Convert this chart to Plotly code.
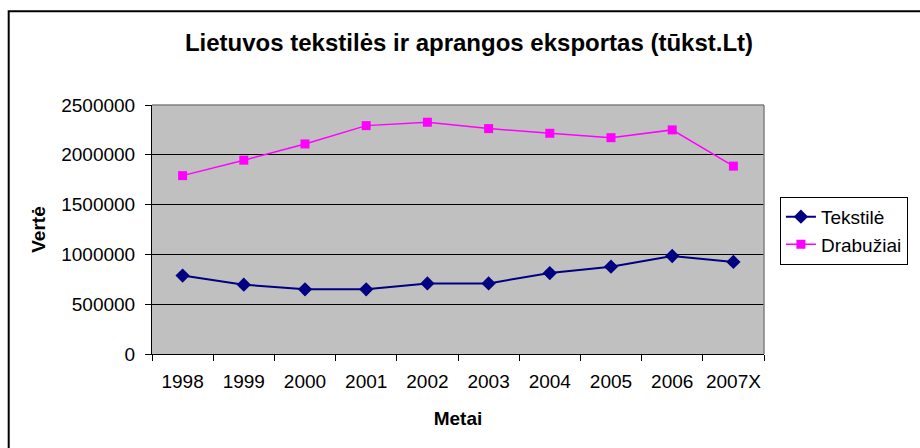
import plotly.graph_objects as go

# Export of Lithuanian textiles and clothing, thousand Lt
years = ["1998", "1999", "2000", "2001", "2002", "2003", "2004", "2005", "2006", "2007X"]
tekstile = [787000, 696000, 649000, 649000, 709000, 709000, 813000, 877000, 984000, 924000]
drabuziai = [1791000, 1946000, 2109000, 2293000, 2327000, 2263000, 2216000, 2172000, 2250000, 1886000]

y_ticks = [0, 500000, 1000000, 1500000, 2000000, 2500000]

FONT = "Liberation Sans, Arial, sans-serif"

fig = go.Figure()
fig.add_trace(go.Scatter(
    x=years, y=tekstile, name="Tekstilė", mode="lines+markers",
    line=dict(color="#000080", width=2),
    marker=dict(symbol="diamond", size=11, color="#000080"),
    legendgroup="a",
))
fig.add_trace(go.Scatter(
    x=years, y=drabuziai, name="Drabužiai", mode="lines+markers",
    line=dict(color="#FF00FF", width=1.5),
    marker=dict(symbol="square", size=9, color="#FF00FF"),
    legendgroup="b",
))

fig.update_layout(
    width=920, height=448,
    margin=dict(l=152, r=153, t=105, b=94),
    paper_bgcolor="white",
    plot_bgcolor="#C0C0C0",
    font=dict(family=FONT, size=19, color="black"),
    title=dict(
        text="<b>Lietuvos tekstilės ir aprangos eksportas (tūkst.Lt)</b>",
        x=469 / 920, xref="container", xanchor="center",
        y=1 - 43 / 448, yref="container", yanchor="middle",
        font=dict(family=FONT, size=24, color="black"),
    ),
    showlegend=True,
    legend=dict(
        x=(783 - 152) / 615, xanchor="left",
        y=(354.5 - 197) / 249.5, yanchor="top",
        bordercolor="black", borderwidth=1, bgcolor="white",
        font=dict(family=FONT, size=19, color="black"),
        traceorder="grouped", tracegroupgap=0,
    ),
)

fig.update_xaxes(
    type="category",
    range=[-0.5, len(years) - 0.5],
    showgrid=False,
    showline=True, linecolor="black", linewidth=1,
    ticks="outside", tickson="boundaries", ticklen=6, tickcolor="black",
    tickangle=0,
    ticklabelstandoff=10,
    title=dict(text="<b>Metai</b>", font=dict(family=FONT, size=19), standoff=20),
)
fig.update_yaxes(
    range=[0, 2500000],
    tickvals=y_ticks,
    ticktext=[str(v) for v in y_ticks],
    showgrid=True, gridcolor="black", gridwidth=1,
    zeroline=False,
    showline=True, linecolor="black", linewidth=1,
    ticks="outside", ticklen=6, tickcolor="black",
    ticklabelstandoff=6,
    title=dict(text="<b>Vertė</b>", font=dict(family=FONT, size=19), standoff=10),
)

# Gray frame on the top and right sides of the plot area
fig.add_shape(type="line", xref="paper", yref="paper", x0=0, x1=1, y0=1, y1=1,
              line=dict(color="#808080", width=1.5), layer="above")
fig.add_shape(type="line", xref="paper", yref="paper", x0=1, x1=1, y0=0, y1=1,
              line=dict(color="#808080", width=1.5), layer="above")

# Outer chart border
fig.add_shape(type="rect", xref="paper", yref="paper",
              x0=(8 - 152) / 615, x1=(930 - 152) / 615,
              y0=(354.5 - 460) / 249.5, y1=(354.5 - 11) / 249.5,
              line=dict(color="black", width=2), fillcolor="rgba(0,0,0,0)", layer="below")

fig.write_html("out.html")
